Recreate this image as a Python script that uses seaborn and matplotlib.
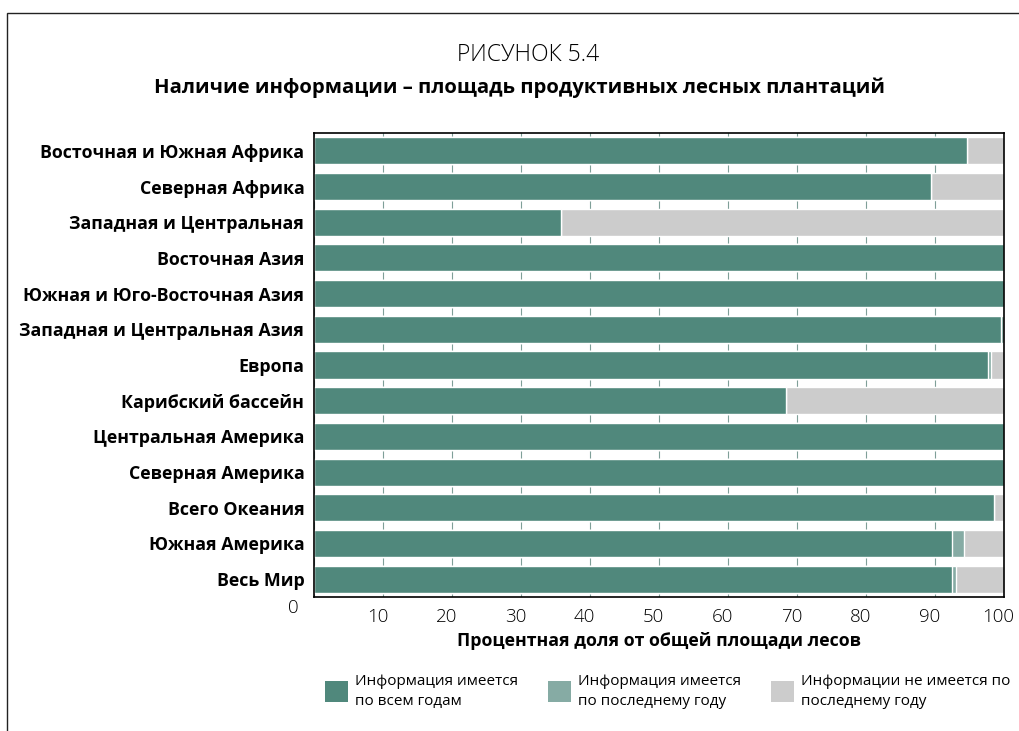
import matplotlib
matplotlib.use("Agg")
import matplotlib.pyplot as plt
import matplotlib.transforms as mtransforms
from matplotlib.patches import Rectangle, Patch
import pandas as pd
import seaborn as sns

# data
regions = [
    "Восточная и Южная Африка",
    "Северная Африка",
    "Западная и Центральная",
    "Восточная Азия",
    "Южная и Юго-Восточная Азия",
    "Западная и Центральная Азия",
    "Европа",
    "Карибский бассейн",
    "Центральная Америка",
    "Северная Америка",
    "Всего Океания",
    "Южная Америка",
    "Весь Мир",
]
all_years = [94.6, 89.4, 35.8, 100, 100, 99.6, 97.7, 68.4, 100, 100, 98.6, 92.5, 92.5]
latest_year = [0, 0, 0, 0, 0, 0.4, 0.4, 0, 0, 0, 0, 1.7, 0.5]
no_info = [round(100 - a - b, 1) for a, b in zip(all_years, latest_year)]

series_names = [
    "Информация имеется\nпо всем годам",
    "Информация имеется\nпо последнему году",
    "Информации не имеется по\nпоследнему году",
]
colors = ["#50887c", "#86aba4", "#cccccc"]
xticks = [0, 10, 20, 30, 40, 50, 60, 70, 80, 90, 100]

df = pd.DataFrame(dict(region=regions, full=all_years, last=latest_year, none=no_info))
df["cum_last"] = df["full"] + df["last"]
df["cum_none"] = df["cum_last"] + df["none"]

sns.set_style("white")
plt.rcParams["font.family"] = ["Open Sans", "DejaVu Sans"]
plt.rcParams.update({"text.color": "black", "axes.labelcolor": "black",
                     "xtick.color": "black", "ytick.color": "black"})

fig = plt.figure(figsize=(10.19, 7.31), dpi=100)
ax = fig.add_axes([314 / 1019, 134 / 731, 690 / 1019, 464 / 731])

# stacked bars: draw cumulative totals back to front
for col, color in zip(["cum_none", "cum_last", "full"], colors[::-1]):
    sns.barplot(data=df, x=col, y="region", color=color, width=0.76,
                saturation=1, orient="h", ax=ax, zorder=2)

ax.set_xlim(0, 100)
ax.set_ylim(12.5, -0.5)
ax.set_xticks(xticks)
ax.set_xticklabels([""] + [str(t) for t in xticks[1:]], fontsize=13.5,
                   fontweight="light")
ax.tick_params(axis="x", length=0, pad=8)
ax.tick_params(axis="y", length=0, pad=7)
for lab in ax.get_yticklabels():
    lab.set_fontweight("bold")
    lab.set_fontsize(12.8)
shift = mtransforms.ScaledTranslation(-4 / 72, 0, fig.dpi_scale_trans)
for lab in ax.get_xticklabels():
    lab.set_transform(lab.get_transform() + shift)
ax.text(-3, 12.8, "0", fontsize=13.5, fontweight="light",
        ha="center", va="center")

ax.xaxis.grid(True, color="#7f9f98", linewidth=0.8, zorder=0)
ax.set_axisbelow(True)
for s in ax.spines.values():
    s.set_visible(True)
    s.set_color("black")
    s.set_linewidth(1.2)

ax.set_ylabel("")
ax.set_xlabel("Процентная доля от общей площади лесов", fontsize=12.8,
              fontweight="bold", labelpad=4)

fig.text(528 / 1019, 1 - 55 / 731, "РИСУНОК 5.4", ha="center", va="center",
         fontsize=16.5, fontweight="light")
fig.text(520 / 1019, 1 - 88 / 731,
         "Наличие информации – площадь продуктивных лесных плантаций",
         ha="center", va="center", fontsize=14.6, fontweight="bold")

# outer frame, cut at right and bottom edges
fig.add_artist(Rectangle((7 / 1019, -0.1), 1.2, 1.1 - 13 / 731,
                         transform=fig.transFigure, fill=False,
                         edgecolor="#222222", linewidth=1))

handles = [Patch(facecolor=c, edgecolor="none") for c in colors]
leg = fig.legend(handles, series_names, loc="upper left", ncol=3,
                 bbox_to_anchor=(311 / 1019, 1 - 660 / 731), frameon=False,
                 fontsize=11, handlelength=1.5, handleheight=1.7,
                 handletextpad=0.45, columnspacing=2.0, labelspacing=0.3)
for t in leg.get_texts():
    t.set_linespacing(1.45)

fig.savefig("out.png", dpi=100)
